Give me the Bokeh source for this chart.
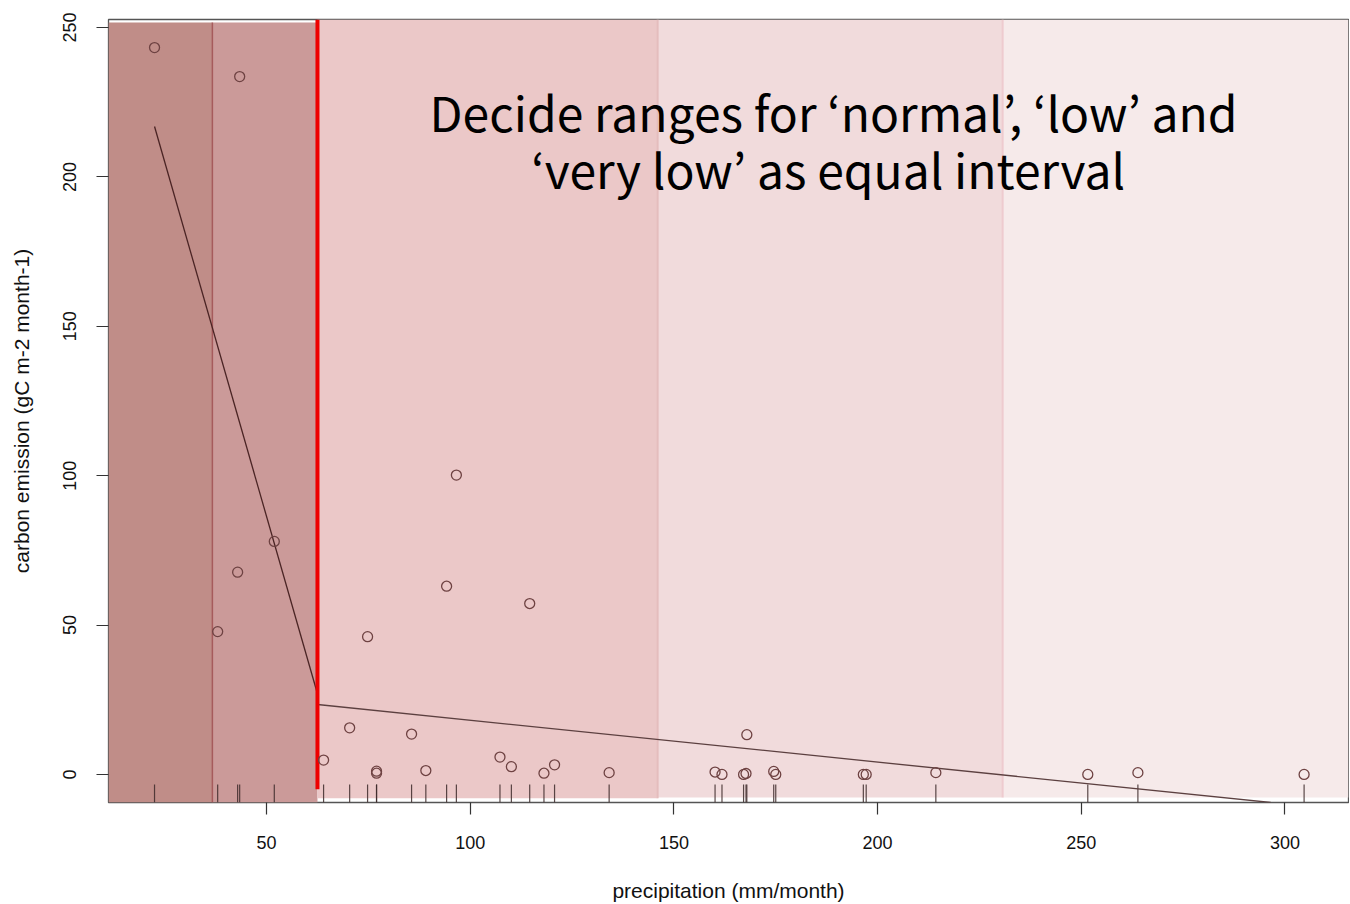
from bokeh.plotting import figure
from bokeh.models import Range1d, Label, FixedTicker
from bokeh.embed import file_html
from bokeh.resources import INLINE

# ---- data ----
precip = [22.5, 43.4, 51.9, 42.9, 38.0, 96.6, 94.2, 114.6, 74.8, 70.4, 85.6, 64.0,
          77.0, 77.0, 89.1, 107.3, 110.1, 118.1, 120.7, 134.1, 160.1, 161.8, 167.1,
          167.7, 167.9, 174.5, 175.0, 196.5, 197.2, 214.3, 251.6, 263.9, 304.7]
emission = [243.3, 233.6, 78.0, 67.7, 47.8, 100.2, 63.0, 57.2, 46.1, 15.6, 13.5, 4.8,
            1.1, 0.4, 1.3, 5.8, 2.6, 0.4, 3.2, 0.6, 0.8, 0.0, 0.0,
            0.3, 13.3, 1.0, 0.0, 0.0, 0.0, 0.6, 0.0, 0.6, 0.0]

# class breaks ('very low' / 'low' / normal ...)
breaks = [36.7, 62.5, 146.0, 230.7]
region_colors = ["#c08d88", "#cb9a99", "#ebc8c8", "#f1dbdc", "#f6eaea"]

# piecewise fitted line
fit1_x = [22.5, 62.5]
fit1_y = [216.9, 27.0]
fit2_x = [62.5, 296.5]
fit2_y = [23.4, -9.4]

x_ticks = [50, 100, 150, 200, 250, 300]
y_ticks = [0, 50, 100, 150, 200, 250]

XMIN, XMAX = 11.2, 315.6
YMIN, YMAX = -9.4, 252.7

p = figure(width=1349, height=904, output_backend="svg", toolbar_location=None,
           x_range=Range1d(XMIN, XMAX), y_range=Range1d(YMIN, YMAX),
           min_border_left=108, min_border_top=19, min_border_right=1,
           min_border_bottom=90)
p.background_fill_color = "white"
p.border_fill_color = "white"
p.xgrid.visible = False
p.ygrid.visible = False
p.outline_line_color = "#555555"
p.outline_line_width = 1.3

# shaded ranges
lefts = [XMIN] + breaks
rights = breaks + [XMAX]
tops = [251.7, 251.7, YMAX, YMAX, YMAX]
bottoms = [YMIN, YMIN, -8.0, -7.7, -7.7]
p.quad(left=lefts, right=rights, top=tops, bottom=bottoms,
       fill_color=region_colors, line_color=None)
# faint edges of lighter regions
p.segment(x0=breaks[2:], y0=[-8.0, -7.7], x1=breaks[2:], y1=[YMAX, YMAX],
          line_color=["#e4bdbd", "#eecbcf"], line_width=2)
# edge between very low classes
p.segment(x0=[breaks[0]], y0=[YMIN], x1=[breaks[0]], y1=[251.7],
          line_color="#a65b5c", line_width=1.5)

# rug
p.segment(x0=precip, y0=[YMIN] * len(precip), x1=precip, y1=[YMIN + 6.0] * len(precip),
          line_color="#3d2a2a", line_width=1.2, line_alpha=0.85)

# fitted lines
p.line(fit1_x, fit1_y, line_color="#4a2424", line_width=1.3)
p.line(fit2_x, fit2_y, line_color="#5c4040", line_width=1.3)

# threshold red line
p.segment(x0=[breaks[1]], y0=[-5.0], x1=[breaks[1]], y1=[YMAX],
          line_color="#ee0000", line_width=4)

# points
p.scatter(precip, emission, marker="circle", size=10, fill_color=None,
          line_color="#6e4242", line_width=1.3)

# annotation text
for txt, yy in [("Decide ranges for \u2018normal\u2019, \u2018low\u2019 and", 222.2),
                ("\u2018very low\u2019  as equal interval", 203.1)]:
    p.add_layout(Label(x=189.2, y=yy, text=txt, text_align="center",
                       text_baseline="alphabetic", text_font="Noto Sans CJK KR",
                       text_font_size="48px", text_color="black"))

# axes
for ax in (p.xaxis[0], p.yaxis[0]):
    ax.axis_line_color = None
    ax.major_tick_line_color = "#333333"
    ax.major_tick_line_width = 1.2
    ax.major_tick_out = 12
    ax.major_tick_in = 0
    ax.minor_tick_line_color = None
    ax.major_label_text_font = "Liberation Sans"
    ax.major_label_text_font_size = "18px"
    ax.major_label_text_color = "#111111"
    ax.axis_label_text_font = "Liberation Sans"
    ax.axis_label_text_font_size = "21px"
    ax.axis_label_text_font_style = "normal"
    ax.axis_label_text_color = "#111111"

p.xaxis[0].ticker = FixedTicker(ticks=x_ticks)
p.yaxis[0].ticker = FixedTicker(ticks=y_ticks)
p.xaxis[0].axis_label = "precipitation (mm/month)"
p.yaxis[0].axis_label = "carbon emission (gC m-2 month-1)"
p.yaxis[0].major_label_orientation = "vertical"
p.xaxis[0].major_label_standoff = 21
p.yaxis[0].major_label_standoff = 20
p.xaxis[0].axis_label_standoff = 27
p.yaxis[0].axis_label_standoff = 28

open("out.html", "w").write(file_html(p, INLINE))
